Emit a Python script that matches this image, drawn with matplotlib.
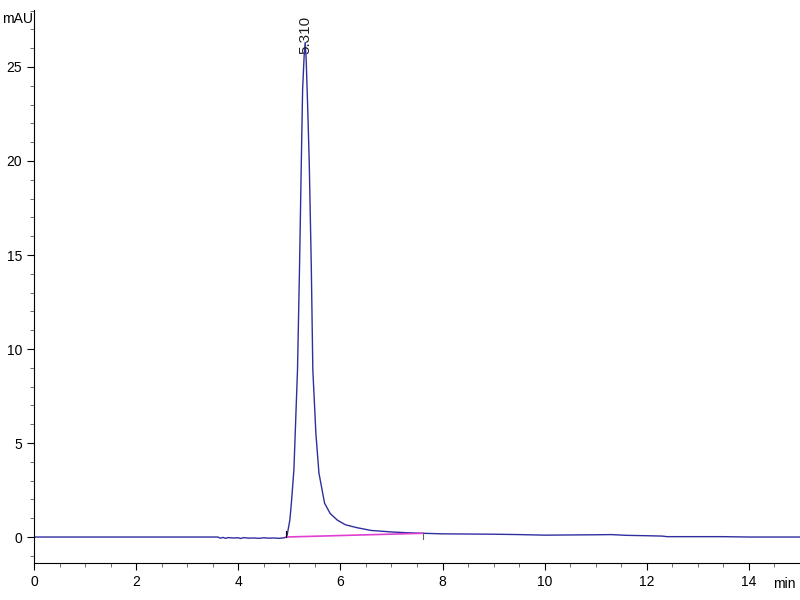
import numpy as np
import matplotlib.pyplot as plt
from matplotlib.ticker import MultipleLocator

plt.rcParams['font.family'] = ['Liberation Sans', 'DejaVu Sans']

# signal trace (min, mAU)
t_sig = [0.0, 1.0, 2.0, 3.0, 3.6, 3.65, 3.7, 3.75, 3.8, 3.9, 4.0, 4.05, 4.1, 4.2, 4.3,
         4.4, 4.5, 4.6, 4.7, 4.8, 4.9, 4.95, 5.01, 5.04, 5.09, 5.16, 5.20, 5.235,
         5.26, 5.29, 5.31, 5.33, 5.36, 5.39, 5.43, 5.46, 5.52, 5.58, 5.69, 5.80,
         5.94, 6.1, 6.32, 6.6, 7.0, 7.3, 7.6, 8.0, 8.5, 9.0, 9.5, 10.0, 10.5, 11.0,
         11.3, 11.6, 12.0, 12.3, 12.4, 13.0, 13.5, 14.0, 14.5, 15.0]
y_sig = [0.0, 0.0, 0.0, 0.0, 0.0, -0.06, -0.02, -0.07, -0.03, -0.05, -0.04, -0.08,
         -0.03, -0.06, -0.05, -0.07, -0.04, -0.06, -0.05, -0.07, -0.04, 0.0, 0.9,
         1.8, 3.6, 8.9, 14.4, 20.0, 23.8, 25.6, 26.3, 25.4, 22.8, 19.9, 14.4, 8.9,
         5.5, 3.4, 1.8, 1.25, 0.9, 0.65, 0.5, 0.35, 0.27, 0.23, 0.2, 0.17, 0.16,
         0.15, 0.13, 0.1, 0.11, 0.12, 0.13, 0.09, 0.07, 0.05, 0.02, 0.02, 0.02,
         0.0, 0.0, 0.0]

# integration baseline
t_base = [4.93, 7.62]
y_base = [0.0, 0.2]

peak_rt = 5.310
peak_h = 26.3

fig = plt.figure(figsize=(8, 6), dpi=100)
ax = fig.add_axes([0.0425, 0.0617, 0.9575, 0.9216])

ax.plot(t_sig, y_sig, color='#2e2e9e', lw=1.0)
ax.plot(t_base, y_base, color='#e040d0', lw=1.2)
# start / end markers of the integration
ax.plot([t_base[0], t_base[0]], [y_base[0], y_base[0] + 0.3], color='black', lw=0.8)
ax.plot([t_base[1], t_base[1]], [y_base[1], y_base[1] - 0.3], color='#666666', lw=0.8)

ax.text(peak_rt, peak_h - 0.6, f'{peak_rt:.3f}', rotation=90, ha='center', va='bottom',
        fontsize=11, color='#222222')

ax.set_xlim(0, 15)
ax.set_ylim(-1.38, 28.03)
ax.xaxis.set_major_locator(MultipleLocator(2))
ax.xaxis.set_minor_locator(MultipleLocator(0.5))
ax.yaxis.set_major_locator(MultipleLocator(5))
ax.yaxis.set_minor_locator(MultipleLocator(1))
ax.tick_params(which='major', direction='out', length=5, labelsize=10)
ax.tick_params(which='minor', direction='out', length=3, color='#555555')

for s in ['top', 'right']:
    ax.spines[s].set_visible(False)

fig.text(0.002, 0.968, 'mAU', ha='left', va='center', fontsize=10)
ax.text(0.979, -0.038, 'min', transform=ax.transAxes, ha='center', va='center', fontsize=10)

fig.savefig('out.png', dpi=100)
